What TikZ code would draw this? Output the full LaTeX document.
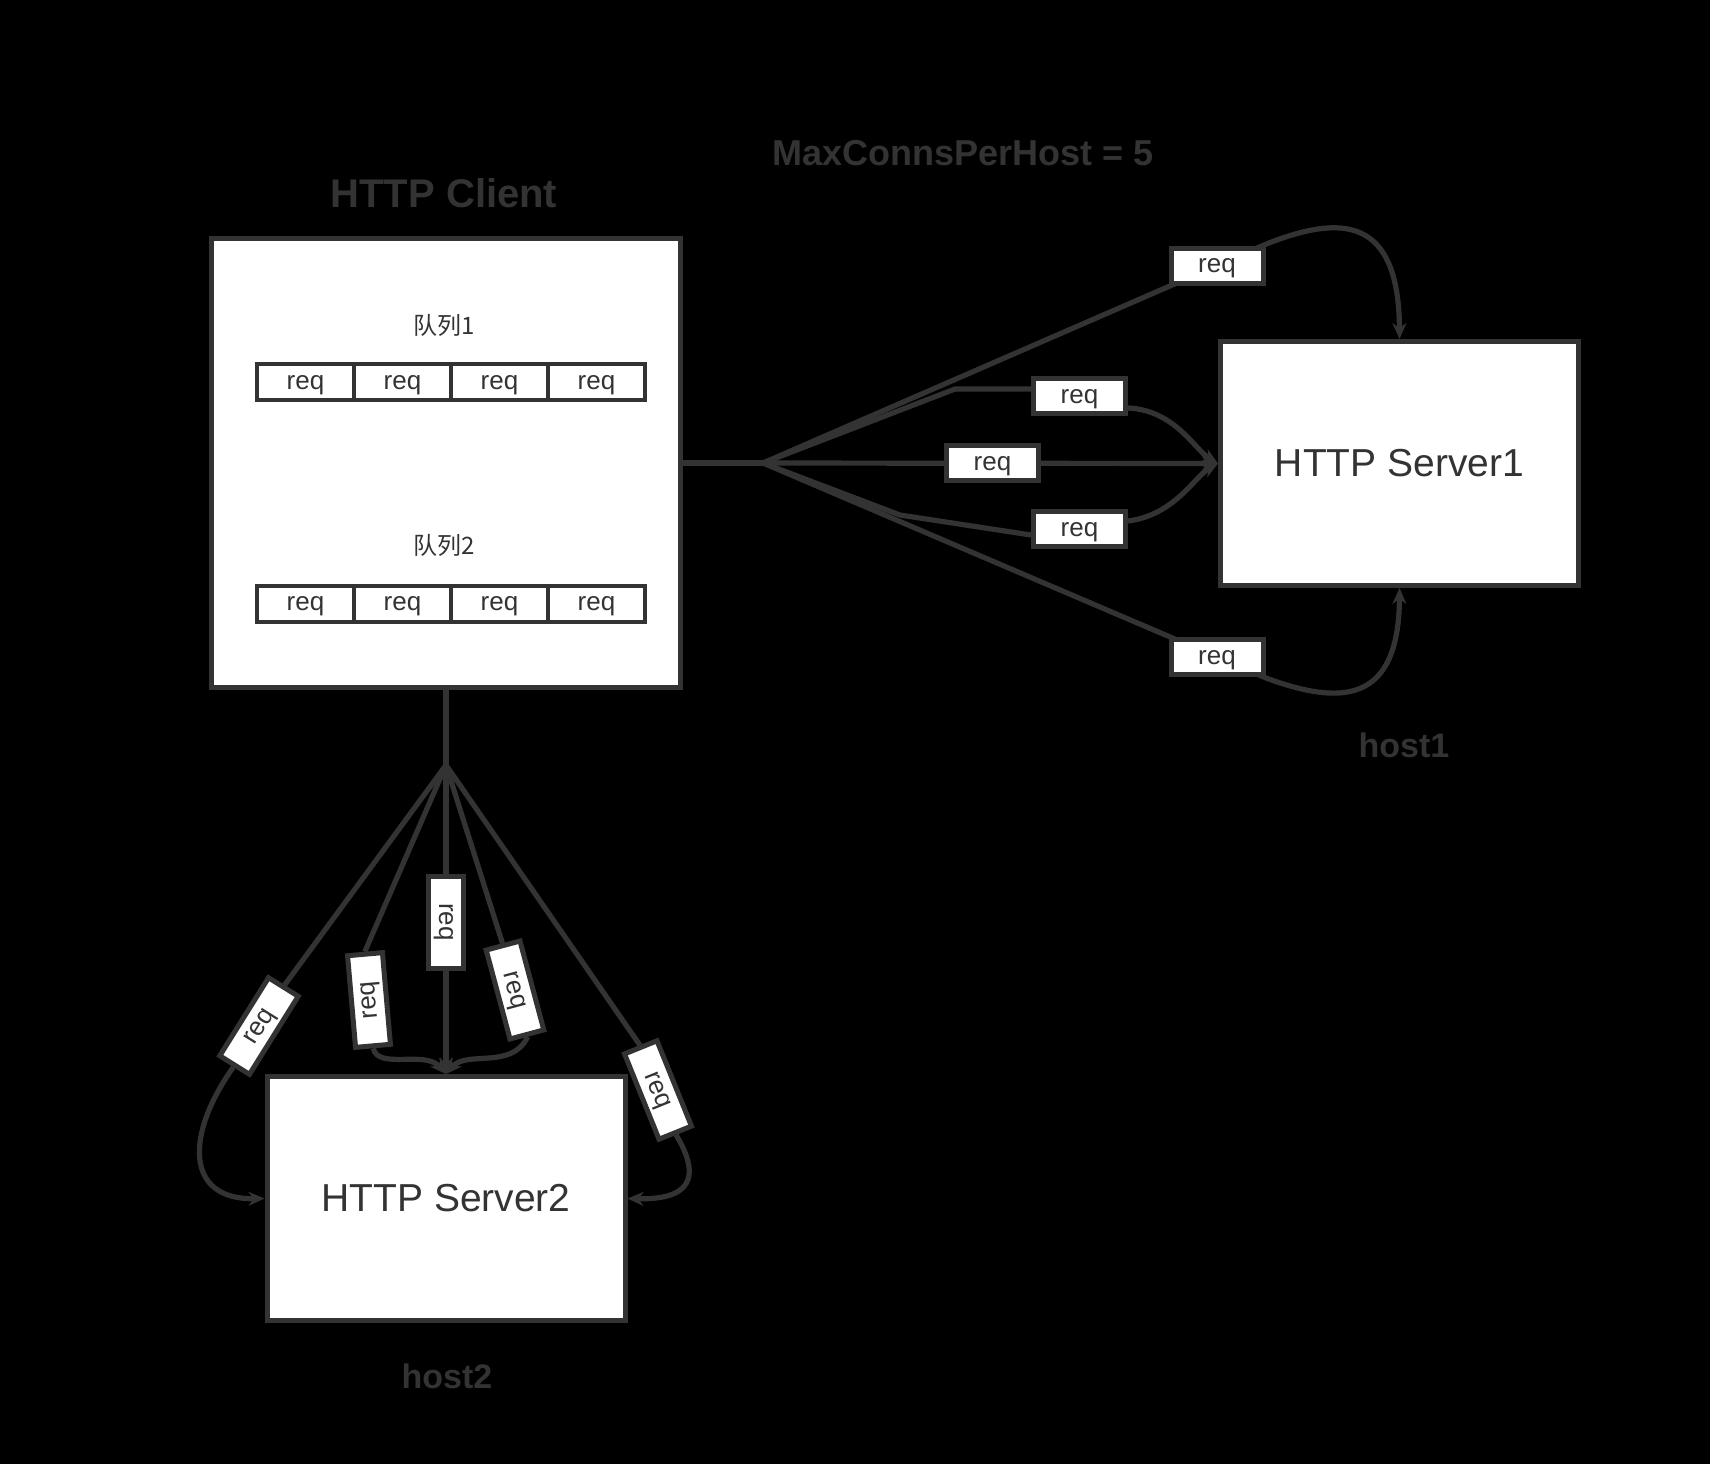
\documentclass[tikz,border=0pt]{standalone}
\usepackage{fontspec}
\setmainfont{Liberation Sans}
\newfontfamily\cjk{Noto Sans CJK SC}
\usetikzlibrary{calc,arrows.meta}
\pgfdeclarelayer{bg}
\pgfdeclarelayer{edges}
\pgfsetlayers{bg,edges,main}
\definecolor{ink}{HTML}{333333}
\begin{document}
\begin{tikzpicture}[x=0.5pt,y=-0.5pt,
  box/.style={draw=ink,fill=white,line width=2.5pt,inner sep=0pt},
  srv/.style={box,minimum width=179pt,minimum height=122pt,text=ink,font=\fontsize{19.5}{20}\selectfont},
  reqbox/.style={draw=ink,fill=white,line width=2.5pt,minimum width=46pt,minimum height=17.5pt,inner sep=0pt,text depth=0pt,font=\fontsize{13}{13}\selectfont,text=ink},
  cell/.style={draw=ink,fill=white,line width=2pt,minimum width=48.5pt,minimum height=18pt,inner sep=0pt,text depth=0pt,font=\fontsize{13}{13}\selectfont,text=ink},
  qlabel/.style={text=ink,font=\cjk\fontsize{12}{12}\selectfont},
  conn/.style={draw=ink,line width=2.6pt},
  arr/.style={conn,-{Stealth[length=8pt,width=7pt]}},
  ttl/.style={text=ink,font=\bfseries\fontsize{20}{20}\selectfont},
]
\begin{pgfonlayer}{bg}
\fill[black] (0,0) rectangle (1710,1464);
\end{pgfonlayer}
\useasboundingbox (0,0) rectangle (1710,1464);

% titles
\node[ttl] (tclient) at (444,193) {HTTP Client};
\node[ttl,font=\bfseries\fontsize{18}{18}\selectfont] (tmax) at (963,153) {MaxConnsPerHost = 5};
\node[ttl,font=\bfseries\fontsize{17}{17}\selectfont] (thost1) at (1404,745) {host1};
\node[ttl,font=\bfseries\fontsize{17}{17}\selectfont] (thost2) at (447,1376) {host2};

% client
\node[box,minimum width=234.5pt,minimum height=224.5pt] (client) at (446,463) {};
\node[qlabel] (q1) at (444,325) {队列1};
\node[qlabel] (q2) at (444,545) {队列2};
\foreach \i/\x in {1/305.5,2/402.5,3/499.5,4/596.5}{
  \node[cell] (qa\i) at (\x,382) {req};
  \node[cell] (qb\i) at (\x,603.5) {req};
}

% servers
\node[srv] (s1) at (1399.5,463.5) {HTTP Server1};
\node[srv] (s2) at (446,1198.5) {HTTP Server2};

% right req boxes
\node[reqbox] (r1) at (1217,265.5) {req};
\node[reqbox] (r2) at (1079.5,396) {req};
\node[reqbox] (r3) at (992.5,463) {req};
\node[reqbox] (r4) at (1079.5,529) {req};
\node[reqbox] (r5) at (1217,657) {req};

% bottom req boxes
\node[reqbox,rotate=58] (b1) at (259,1026) {req};
\node[reqbox,rotate=95] (b2) at (369,1000) {req};
\node[reqbox,rotate=-90] (b3) at (446,922) {req};
\node[reqbox,rotate=-75] (b4) at (515,990) {req};
\node[reqbox,rotate=-68] (b5) at (658,1090) {req};

\coordinate (F1) at (763,463);
\coordinate (F2) at (446,765);
\coordinate (B2) at (955,389);
\coordinate (B4) at (900,515);

\begin{pgfonlayer}{edges}
% right fan
\draw[conn] (client.east) -- (F1);
\draw[arr] (F1) -- ($(F1)!1.11!(r1.center)$) .. controls (1340,215) and (1399,215) .. (s1.north);
\draw[conn] (F1) -- (B2) -- (B2 -| r2.west);
\draw[arr] ([yshift=-6pt]r2.east) .. controls (1175,410) and (1195,450) .. (s1.west);
\draw[arr] (F1) -- (s1.west);
\draw[conn] (F1) -- (B4) -- ([yshift=-3pt]r4.west);
\draw[arr] ([yshift=4pt]r4.east) .. controls (1175,515) and (1195,476) .. (s1.west);
\draw[arr] (F1) -- ($(F1)!1.11!(r5.center)$) .. controls (1340,705) and (1399,705) .. (s1.south);
% bottom fan
\draw[conn] (client.south) -- (F2);
\draw[conn] (F2) -- (b1.east);
\draw[arr] (b1.west) .. controls (185,1135) and (185,1200) .. (s2.west);
\draw[conn] (F2) -- (b2.east);
\draw[arr] (b2.west) .. controls (378,1070) and (425,1050) .. (s2.north);
\draw[arr] (F2) -- (s2.north);
\draw[conn] (F2) -- (b4.west);
\draw[arr] (b4.east) .. controls (512,1070) and (467,1050) .. (s2.north);
\draw[conn] (F2) -- (b5.west);
\draw[arr] (b5.east) .. controls (702,1178) and (690,1200) .. (s2.east);
\end{pgfonlayer}
\end{tikzpicture}
\end{document}
